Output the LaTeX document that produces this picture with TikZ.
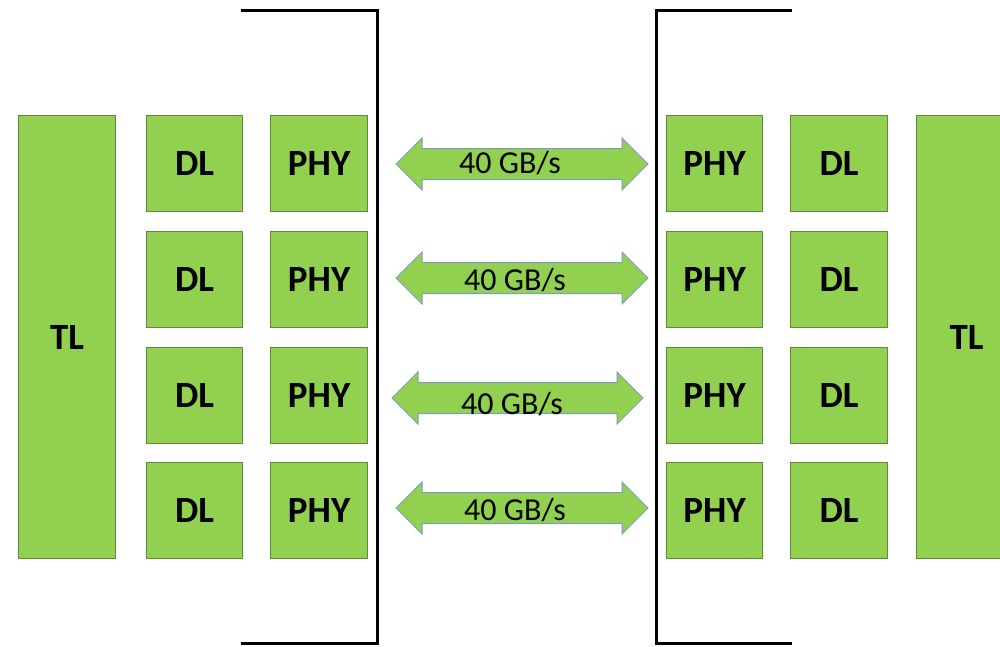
\documentclass[tikz,border=0pt]{standalone}
\usepackage{fontspec}
\setmainfont{Carlito}
\begin{document}
\begin{tikzpicture}[x=1pt,y=-1pt,
  blk/.style={draw=boxline, line width=1.2pt, fill=boxgreen, inner sep=0pt, anchor=north west, font=\fontsize{37}{42}\selectfont\bfseries},
  brk/.style={draw=black, line width=3pt},
  arr/.style={draw=arrowline, line width=1pt, fill=boxgreen},
  lbl/.style={font=\fontsize{32}{36}\selectfont, inner sep=0pt}]
\definecolor{boxgreen}{HTML}{92D050}
\definecolor{boxline}{HTML}{5E8A3A}
\definecolor{arrowline}{HTML}{7D9CC0}
\useasboundingbox (0,0) rectangle (1000,646);
% left side
\node[blk, minimum width=97pt, minimum height=443pt] (tlL) at (18,115) {TL};
\foreach \i/\y in {1/115,2/231,3/347,4/462}{
  \node[blk, minimum width=96pt, minimum height=96pt] (dlL\i) at (146,\y) {DL};
  \node[blk, minimum width=97pt, minimum height=96pt] (phyL\i) at (270,\y) {PHY};
  \node[blk, minimum width=96pt, minimum height=96pt] (phyR\i) at (666,\y) {PHY};
  \node[blk, minimum width=97pt, minimum height=96pt] (dlR\i) at (790,\y) {DL};
}
\node[blk, minimum width=100pt, minimum height=443pt] (tlR) at (916,115) {TL};
% brackets
\draw[brk] (241,10) -- (377,10) -- (377,643) -- (241,643);
\draw[brk] (792,10) -- (656,10) -- (656,643) -- (792,643);
% arrows
\foreach \i/\xa/\xb/\yc/\tx/\ty in {1/396/648/164/510/163, 2/396/648/278/515/280, 3/392/643/398/512/404, 4/396/648/508/515/510}{
  \draw[arr] (\xa,\yc) -- (\xa+26,\yc-26) -- (\xa+26,\yc-15.5) -- (\xb-26,\yc-15.5) -- (\xb-26,\yc-26)
    -- (\xb,\yc) -- (\xb-26,\yc+26) -- (\xb-26,\yc+15.5) -- (\xa+26,\yc+15.5) -- (\xa+26,\yc+26) -- cycle;
  \node[lbl] (bw\i) at (\tx,\ty) {40 GB/s};
}
\end{tikzpicture}
\end{document}
